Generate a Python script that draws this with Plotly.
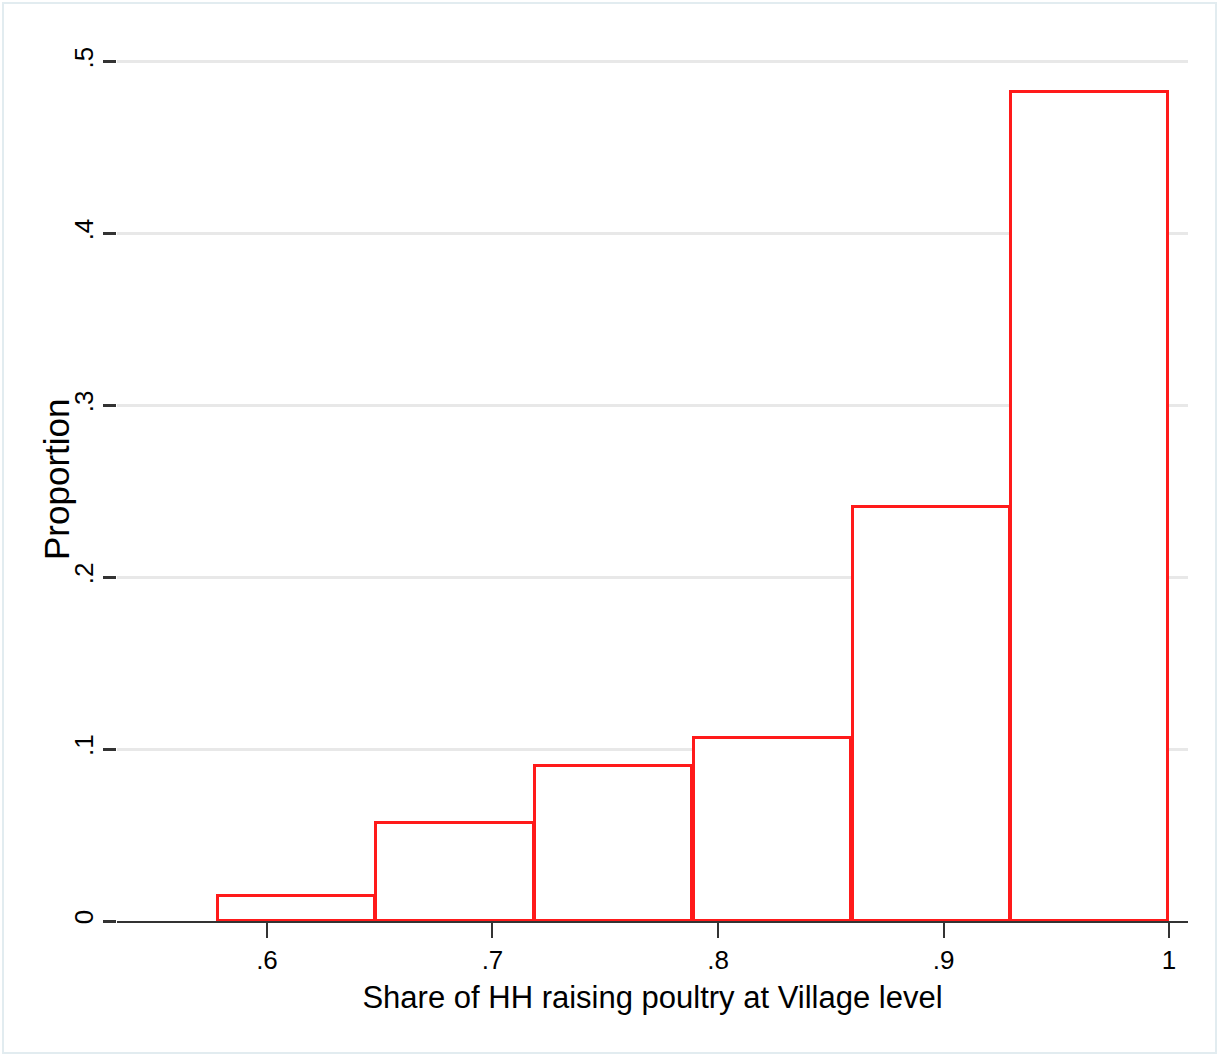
import plotly.graph_objects as go

# Histogram of village-level share of households raising poultry
bin_start = 0.5778
bin_width = 0.07037
proportions = [0.0145, 0.057, 0.0903, 0.1066, 0.241, 0.482]

x_tick_vals = [0.6, 0.7, 0.8, 0.9, 1.0]
x_tick_text = [".6", ".7", ".8", ".9", "1"]
y_tick_vals = [0, 0.1, 0.2, 0.3, 0.4, 0.5]
y_tick_text = ["0", ".1", ".2", ".3", ".4", ".5"]

centers = [bin_start + bin_width * (i + 0.5) for i in range(len(proportions))]

FONT = "Liberation Sans, Arial, sans-serif"

fig = go.Figure(
    go.Bar(
        x=centers,
        y=proportions,
        width=bin_width * 0.99,
        marker=dict(color="white", line=dict(color="#ff1a1a", width=3)),
        hoverinfo="x+y",
    )
)

# plot area geometry in pixels
W, H = 1220, 1057
L, R, T, B = 117, 32, 39, 136
pw, ph = W - L - R, H - T - B

fig.update_layout(
    width=W,
    height=H,
    margin=dict(l=L, r=R, t=T, b=B),
    paper_bgcolor="white",
    plot_bgcolor="white",
    showlegend=False,
    bargap=0,
    font=dict(family=FONT, color="black"),
    xaxis=dict(
        range=[0.5335, 1.0084],
        tickvals=x_tick_vals,
        ticktext=x_tick_text,
        ticks="outside",
        ticklen=15,
        tickwidth=2,
        tickcolor="#333333",
        tickfont=dict(size=26, family=FONT),
        showgrid=False,
        zeroline=False,
        showline=True,
        linecolor="#333333",
        linewidth=2,
        title=dict(text="Share of HH raising poultry at Village level",
                   font=dict(size=31, family=FONT), standoff=12),
    ),
    yaxis=dict(
        range=[0, (H - B - T) / 1719],
        tickvals=y_tick_vals,
        ticktext=y_tick_text,
        tickangle=-90,
        ticks="outside",
        ticklen=13,
        tickwidth=3,
        tickcolor="#333333",
        tickfont=dict(size=26, family=FONT),
        showgrid=True,
        gridcolor="#e8e8e8",
        gridwidth=2.5,
        zeroline=False,
        showline=False,
    ),
)

# y-axis title placed close to the tick labels
fig.add_annotation(
    text="Proportion",
    textangle=-90,
    xref="paper", yref="paper",
    x=(56 - L) / pw, y=(H - B - 480) / ph,
    xanchor="center", yanchor="middle",
    showarrow=False,
    font=dict(size=35, family=FONT, color="black"),
)

# thin frame around the whole graph
fig.add_shape(
    type="rect",
    xref="paper", yref="paper",
    x0=(3 - L) / pw, x1=(W - 4 - L) / pw,
    y0=(H - B - (H - 4)) / ph, y1=(H - B - 3) / ph,
    line=dict(color="#e2ecf0", width=2),
    fillcolor="rgba(0,0,0,0)",
    layer="below",
)

fig.write_html("out.html")
